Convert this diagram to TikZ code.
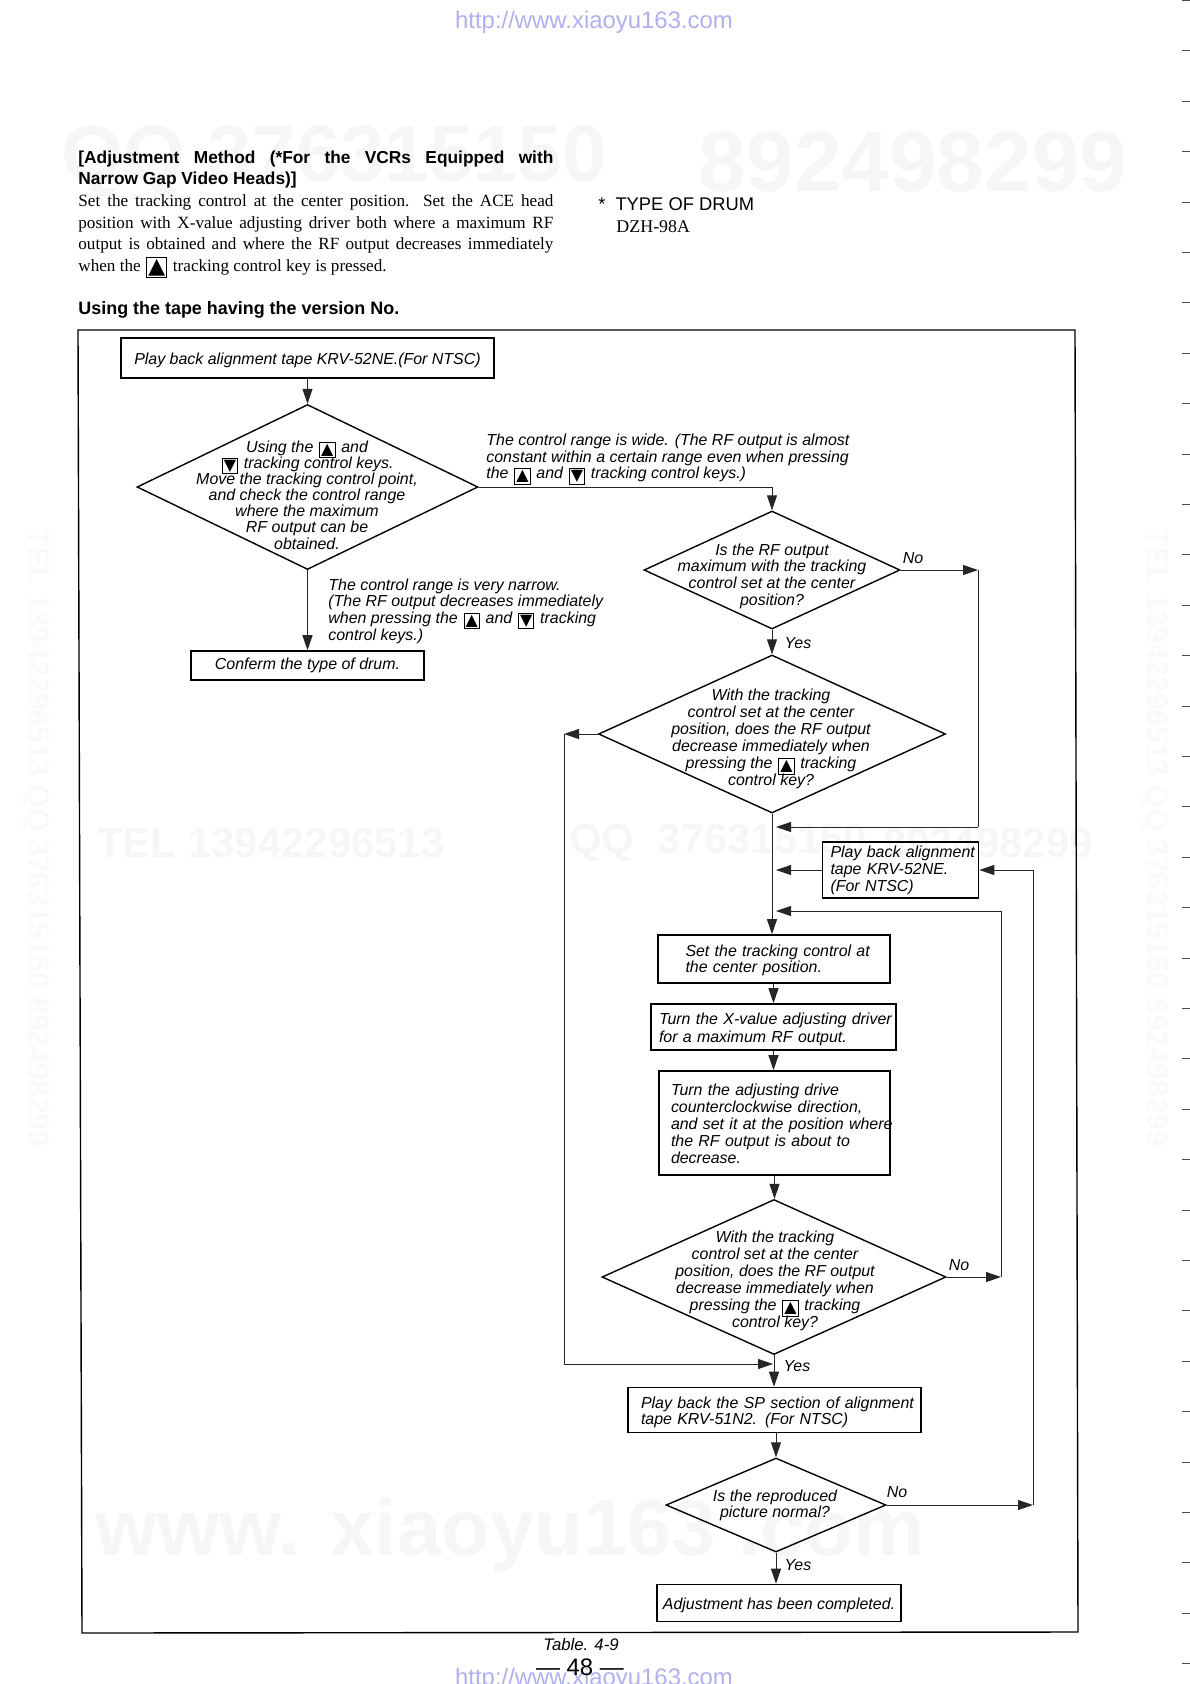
\documentclass[tikz,border=0pt]{standalone}
\usepackage{fontspec}
\setmainfont{Liberation Sans}
\newfontfamily\serifface{Liberation Serif}
\newfontfamily\keyface{DejaVu Sans}
\usetikzlibrary{shapes.geometric, positioning, arrows.meta, calc}

\definecolor{urlblue}{RGB}{176,176,240}
\definecolor{wmgray}{RGB}{246,246,246}
\definecolor{wmside}{RGB}{250,250,250}
\newcommand{\keyglyph}[2]{\hspace{0.7bp}\raisebox{-0.9bp}{\smash{\setlength{\fboxsep}{0.5bp}\setlength{\fboxrule}{0.5bp}\fbox{\keyface\upshape\fontsize{#1}{#1}\selectfont #2}}}\hspace{0.7bp}}
\newcommand{\upkey}[1][8]{\keyglyph{#1}{▲}}
\newcommand{\downkey}[1][8]{\keyglyph{#1}{▼}}
\newcommand{\flowlines}[2][0bp]{\raisebox{#1}[\height][\depth]{\begin{tabular}{@{}l@{}}#2\end{tabular}}}
\newcommand{\nudged}[1]{\raisebox{-1bp}[\height][\depth]{#1}}
\tikzset{
    flowbox/.style={draw, line width=0.8bp, align=center, inner sep=0pt, font=\fontsize{8}{8.2}\itshape\selectfont},
    leftbox/.style={flowbox, align=left},
    spaced/.style={font=\fontsize{8}{#1}\itshape\selectfont},
    decision/.style={draw, diamond, line width=0.7bp, inner sep=0pt},
    flowtext/.style={align=center, inner sep=0pt, font=\fontsize{8}{8.1}\itshape\selectfont},
    sidetext/.style={align=left, inner sep=0pt, anchor=west, font=\fontsize{8}{8.35}\itshape\selectfont},
    conn/.style={line width=0.5bp, black!85},
    flowarrow/.style={conn, -{Triangle[length=7.5bp,width=5bp]}},
    watermark/.style={text=wmgray, inner sep=0pt, font=\fontsize{#1}{#1}\bfseries\selectfont},
    sidemark/.style={text=wmside, inner sep=0pt, rotate=-90, font=\fontsize{15}{15}\bfseries\selectfont},
    urltext/.style={text=urlblue, inner sep=0pt, font=\fontsize{12}{12}\selectfont}
}

\begin{document}
\begin{tikzpicture}[x=0.5bp, y=-0.5bp]
    \useasboundingbox (0,0) rectangle (1190,1684);
    % watermark
    \node[watermark=40, anchor=east] (wmtopa) at (607,162) {QQ 376315150};
    \node[watermark=43, anchor=east] (wmtopb) at (1128,162) {892498299};
    \node[watermark=21, anchor=west] (wmtel) at (97,843) {TEL\hspace{6bp}13942296513};
    \node[watermark=21, anchor=west] (wmqq) at (569,843) {QQ\ \ 376315150};
    \node[watermark=21, anchor=east] (wmnum) at (1093,843) {892498299};
    \node[watermark=40] (wmlow) at (510,1535) {www. xiaoyu163 .com};
    \node[sidemark] (wmleft) at (36,838) {TEL 13942296513 QQ 376315150 892498299};
    \node[sidemark] (wmright) at (1155,838) {TEL 13942296513 QQ 376315150 892498299};
    % margin marks
    \foreach \ypos in {0,...,33}
        \draw[black!70, line width=0.5bp] (1182,{\ypos*50.4+0.5}) -- (1190,{\ypos*50.4+0.5});
    % urls
    \node[urltext] (urltop) at (594,22) {http://www.xiaoyu163.com};
    \begin{scope}
        \clip (0,0) rectangle (1190,1684);
        \node[urltext] (urlbottom) at (594,1679) {http://www.xiaoyu163.com};
    \end{scope}
    % heading
    \node[anchor=west, inner sep=0pt, font=\fontsize{8.7}{8.7}\bfseries\selectfont] (title) at (78,159) {\makebox[237.5bp][s]{[Adjustment Method (*For the VCRs Equipped with}};
    \node[anchor=west, inner sep=0pt, font=\fontsize{8.7}{8.7}\bfseries\selectfont] (titleb) at (78,180) {Narrow Gap Video Heads)]};
    \node[anchor=north west, inner sep=0pt, align=left, font=\serifface\fontsize{8.6}{10.9}\selectfont] (intro) at (78,194) {%
        \makebox[237.5bp][s]{Set the tracking control at the center position. Set the ACE head}\\
        \makebox[237.5bp][s]{position with X-value adjusting driver both where a maximum RF}\\
        \makebox[237.5bp][s]{output is obtained and where the RF output decreases immediately}\\
        when the \upkey[11]\ tracking control key is pressed.};
    \node[anchor=west, inner sep=0pt, font=\fontsize{9.2}{9.2}\selectfont] (drumtype) at (598,204) {*\hspace{5bp}TYPE OF DRUM};
    \node[anchor=west, inner sep=0pt, font=\serifface\fontsize{9}{9}\selectfont] (drumname) at (616,227) {DZH-98A};
    \node[anchor=west, inner sep=0pt, font=\fontsize{9}{9}\bfseries\selectfont] (tapehead) at (78,310) {Using the tape having the version No.};
    % frame
    \draw[line width=0.7bp] (78,330) -- (1075,330) -- (1078,1632) -- (82,1633) -- cycle;

    % left branch
    \node[flowbox, minimum width=186.5bp, minimum height=20bp] (start) at (307.5,358) {\nudged{Play back alignment tape KRV-52NE.(For NTSC)}};
    \node[decision, minimum width=170.5bp, minimum height=82.5bp, aspect=2.07] (rangecheck) at (307.5,487) {};
    \node[flowtext] (rangetext) at (307,495) {Using the \upkey\ and\\\downkey\ tracking control keys.\\Move the tracking control point,\\and check the control range\\where the maximum\\RF output can be\\obtained.};
    \node[flowbox, minimum width=116.5bp, minimum height=14.5bp] (conform) at (307.5,665.5) {Conferm the type of drum.};
    \node[sidetext] (widenote) at (486,458) {The control range is wide. (The RF output is almost\\constant within a certain range even when pressing\\the \upkey\ and \downkey\ tracking control keys.)};
    \node[sidetext] (narrownote) at (328,611) {The control range is very narrow.\\(The RF output decreases immediately\\when pressing the \upkey\ and \downkey\ tracking\\control keys.)};

    % main column
    \node[decision, minimum width=128bp, minimum height=59bp, aspect=2.17] (maxcheck) at (772,570) {};
    \node[flowtext, spaced=8.4] (maxtext) at (772,576) {Is the RF output\\maximum with the tracking\\control set at the center\\position?};
    \node[decision, minimum width=173.5bp, minimum height=79bp, aspect=2.2] (centercheck) at (772,734) {};
    \node[flowtext, spaced=8.6] (centertext) at (771,739) {With the tracking\\control set at the center\\position, does the RF output\\decrease immediately when\\pressing the \upkey\ tracking\\control key?};
    \node[leftbox, spaced=8.3, text width=70bp, inner xsep=4bp, minimum height=28bp] (backnarrow) at (900.5,870) {\flowlines[-0.6bp]{Play back alignment\\tape KRV-52NE.\\(For NTSC)}};
    \node[leftbox, text width=88.5bp, inner xsep=13.75bp, minimum height=24bp] (setcenter) at (774,959) {\flowlines[-1bp]{Set the tracking control at\\the center position.}};
    \node[leftbox, spaced=9, text width=114.5bp, inner xsep=4bp, minimum height=23bp] (turnx) at (773.5,1027) {\flowlines[-1.5bp]{Turn the X-value adjusting driver\\for a maximum RF output.}};
    \node[leftbox, spaced=8.45, text width=103.5bp, inner xsep=6bp, minimum height=52bp] (turnccw) at (774.5,1123) {\flowlines[-1.5bp]{Turn the adjusting drive\\counterclockwise direction,\\and set it at the position where\\the RF output is about to\\decrease.}};
    \node[decision, minimum width=172bp, minimum height=77.5bp, aspect=2.22] (recheck) at (774,1277) {};
    \node[flowtext, spaced=8.6] (rechecktext) at (775,1281) {With the tracking\\control set at the center\\position, does the RF output\\decrease immediately when\\pressing the \upkey\ tracking\\control key?};
    \node[leftbox, text width=133.5bp, inner xsep=6.5bp, minimum height=22.5bp] (backsp) at (774.5,1410) {\flowlines[-1.5bp]{Play back the SP section of alignment\\tape KRV-51N2. (For NTSC)}};
    \node[decision, minimum width=110bp, minimum height=47bp, aspect=2.34] (picture) at (776,1505) {};
    \node[flowtext] (picturetext) at (775,1505) {Is the reproduced\\picture normal?};
    \node[flowbox, minimum width=122bp, minimum height=18.5bp] (done) at (779,1603) {\nudged{Adjustment has been completed.}};

    % labels
    \node[flowtext] (nomax) at (913,558) {No};
    \node[flowtext] (yesmax) at (798,643) {Yes};
    \node[flowtext] (norecheck) at (959,1265) {No};
    \node[flowtext] (yesrecheck) at (797,1366) {Yes};
    \node[flowtext] (nopicture) at (897,1492) {No};
    \node[flowtext] (yespicture) at (798,1565) {Yes};
    \node[flowtext, font=\fontsize{8.4}{8.4}\itshape\selectfont] (tablecap) at (581,1644) {Table. 4-9};
    \node[inner sep=0pt, font=\fontsize{12}{12}\selectfont] (pagenum) at (580,1667) {--- 48 ---};

    % turning points
    \coordinate (widetop) at (rangecheck.east -| maxcheck.north);
    \coordinate (nocorner) at (978,570);
    \coordinate (nolow) at (978,827);
    \coordinate (nojoin) at (776,827);
    \coordinate (backjoin) at (776,870);
    \coordinate (loopjoin) at (776,911);
    \coordinate (loopcorner) at (1001,1277);
    \coordinate (looptop) at (1001,911);
    \coordinate (retrycorner) at (1033,1505);
    \coordinate (retrytop) at (1033,870);
    \coordinate (yescorner) at (564,734);
    \coordinate (yeslow) at (564,1364);
    \coordinate (yesjoin) at (773,1364);

    % connectors
    \draw[flowarrow] (start) -- (rangecheck.north);
    \draw[flowarrow] (rangecheck.south) -- (conform.north);
    \draw[flowarrow] (rangecheck.east) -- (widetop) -- (maxcheck.north);
    \draw[flowarrow] (maxcheck.south) -- (centercheck.north);
    \draw[flowarrow] (maxcheck.east) -- (nocorner);
    \draw[conn] (nocorner) -- (nolow);
    \draw[flowarrow] (nolow) -- (nojoin);
    \draw[flowarrow] (centercheck.south) -- (setcenter.north -| centercheck.south);
    \draw[flowarrow] (backnarrow) -- (backjoin);
    \draw[flowarrow] (setcenter.south -| turnx.north) -- (turnx.north);
    \draw[flowarrow] (turnx.south) -- (turnx.south |- turnccw.north);
    \draw[flowarrow] (turnccw.south) -- (turnccw.south |- recheck.north);
    \draw[flowarrow] (recheck.east) -- (loopcorner);
    \draw[conn] (loopcorner) -- (looptop);
    \draw[flowarrow] (looptop) -- (loopjoin);
    \draw[flowarrow] (centercheck.west) -- (yescorner);
    \draw[conn] (yescorner) -- (yeslow);
    \draw[flowarrow] (yeslow) -- (yesjoin);
    \draw[flowarrow] (recheck.south) -- (recheck.south |- backsp.north);
    \draw[flowarrow] (backsp.south -| picture.north) -- (picture.north);
    \draw[flowarrow] (picture.east) -- (retrycorner);
    \draw[conn] (retrycorner) -- (retrytop);
    \draw[flowarrow] (retrytop) -- (backnarrow.east);
    \draw[flowarrow] (picture.south) -- (picture.south |- done.north);
\end{tikzpicture}
\end{document}
